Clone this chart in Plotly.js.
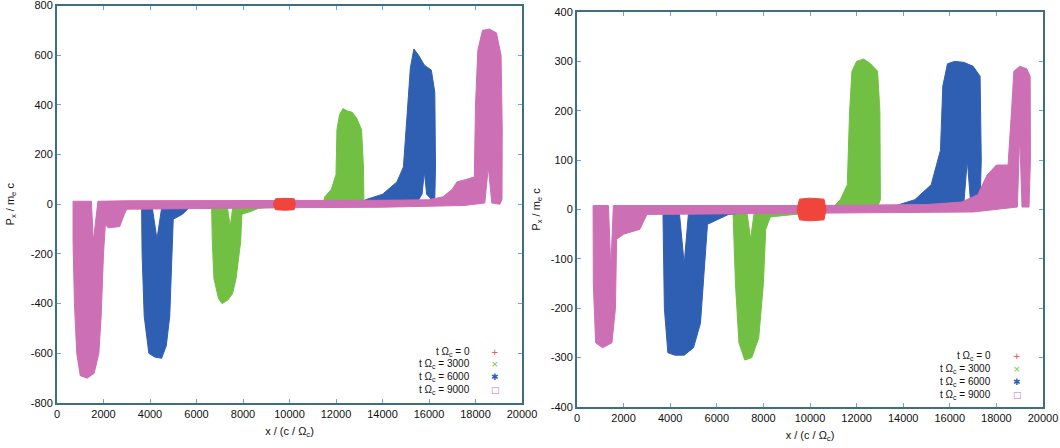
<!DOCTYPE html>
<html><head><meta charset="utf-8">
<script src="https://cdn.plot.ly/plotly-3.0.1.min.js"></script>
<style>html,body{margin:0;padding:0;background:#fff}#chart{width:1060px;height:448px}</style>
</head><body><div id="chart"></div>
<script>
// ---- data (phase-space envelopes, x in c/Ω_c, P_x in m_e c) ----
const seriesNames = ['t Ω<sub>c</sub> = 0', 't Ω<sub>c</sub> = 3000', 't Ω<sub>c</sub> = 6000', 't Ω<sub>c</sub> = 9000'];
const seriesColors = ['#f0453c', '#72c043', '#2f5fb3', '#cc6fb5'];
const legendSymbols = ['+', '×', '✱', '□'];

const xTickVals = [0, 2000, 4000, 6000, 8000, 10000, 12000, 14000, 16000, 18000, 20000];
const xTickText = ['0', '2000', '4000', '6000', '8000', '10000', '12000', '14000', '16000', '18000', '20000'];
const leftYTickVals = [-800, -600, -400, -200, 0, 200, 400, 600, 800];
const leftYTickText = ['-800', '-600', '-400', '-200', '0', '200', '400', '600', '800'];
const rightYTickVals = [-400, -300, -200, -100, 0, 100, 200, 300, 400];
const rightYTickText = ['-400', '-300', '-200', '-100', '0', '100', '200', '300', '400'];

// Left panel
const leftT0X = [9300, 9400, 9800, 10200, 10250, 10200, 9800, 9400, 9300];
const leftT0Y = [0, 22, 24, 22, 0, -22, -24, -22, 0];

const leftT3000X = [6650, 7000, 7330, 7450, 7560, 8000, 8700, 11000, 11450, 11520, 11800, 12000, 12040, 12150, 12300, 12500, 12700, 12900, 13100, 13180, 13200, 13150, 12000, 11000, 8700, 8300, 7950, 7900, 7700, 7550, 7350, 7100, 6950, 6750, 6680, 6650];
const leftT3000Y = [-10, -8, -12, -90, -12, -10, -15, 0, 5, 30, 60, 120, 300, 360, 385, 375, 370, 345, 300, 150, 20, 5, 0, -5, -15, -30, -40, -150, -300, -360, -385, -400, -380, -300, -150, -10];

const leftT6000X = [3640, 4100, 4300, 4500, 5000, 5700, 8000, 13000, 13330, 14000, 14620, 14900, 15050, 15200, 15350, 15550, 15800, 16100, 16250, 16280, 16250, 16100, 15900, 15800, 15700, 15500, 14000, 8000, 5720, 5400, 5000, 4950, 4850, 4700, 4500, 4200, 3950, 3750, 3660, 3640];
const leftT6000Y = [-15, -15, -140, -15, -10, -5, 0, 5, 20, 40, 90, 150, 350, 550, 625, 600, 560, 540, 450, 150, 25, 20, 40, 130, 40, 10, 0, -5, -10, -40, -60, -200, -450, -570, -620, -615, -600, -450, -200, -15];

const leftT9000X = [690, 1480, 1560, 1760, 3000, 6000, 10000, 14000, 16000, 16600, 17000, 17200, 17600, 17950, 18000, 18100, 18300, 18600, 18900, 19100, 19150, 19140, 19050, 18700, 18550, 18400, 17500, 14000, 10000, 6000, 3000, 2900, 2700, 2200, 2080, 2000, 1900, 1800, 1600, 1300, 1000, 850, 750, 690, 690];
const leftT9000Y = [12, 12, -150, 12, 14, 14, 14, 16, 18, 30, 60, 90, 100, 110, 400, 620, 700, 705, 690, 600, 300, 20, 0, 5, 150, 5, -5, -12, -14, -16, -20, -40, -90, -95, -80, -200, -450, -600, -680, -700, -690, -600, -400, -150, 12];

// Right panel
const rightT0X = [9440, 9550, 10000, 10600, 10690, 10600, 10000, 9550, 9440];
const rightT0Y = [0, 21, 23, 21, 0, -21, -23, -21, 0];

const rightT3000X = [6700, 7300, 7450, 7600, 8300, 11000, 11300, 11600, 11700, 11800, 12000, 12300, 12600, 12900, 13000, 13020, 12900, 11000, 8300, 8100, 8000, 7800, 7500, 7200, 6950, 6800, 6700];
const rightT3000Y = [-10, -8, -60, -8, -8, 5, 20, 50, 200, 280, 300, 305, 295, 280, 200, 20, 5, -2, -15, -40, -150, -260, -300, -305, -270, -150, -10];

const rightT6000X = [3690, 4400, 4600, 4780, 5500, 8000, 13500, 14500, 15200, 15600, 15700, 15900, 16200, 16600, 17000, 17300, 17350, 17300, 16900, 16750, 16600, 16000, 8000, 6500, 5600, 5500, 5300, 5000, 4600, 4200, 3900, 3750, 3690];
const rightT6000Y = [-10, -10, -110, -10, -8, 0, 5, 20, 50, 120, 250, 295, 300, 298, 290, 270, 100, 10, 10, 100, 10, 5, -3, -10, -30, -100, -230, -280, -295, -295, -290, -200, -10];

const rightT9000X = [690, 1350, 1450, 1560, 3000, 10000, 15000, 16500, 17200, 17600, 18000, 18500, 18650, 18750, 19000, 19300, 19450, 19460, 19400, 19100, 19000, 18900, 17000, 10000, 3000, 2700, 2000, 1700, 1650, 1500, 1100, 800, 700, 690];
const rightT9000Y = [8, 8, -120, 8, 8, 8, 10, 15, 30, 70, 90, 90, 200, 280, 290, 285, 270, 100, 5, 5, 150, 5, -5, -8, -10, -40, -50, -60, -200, -270, -280, -270, -150, 8];

// ---- layout helpers ----
const W = 1060, H = 448, ML = 50, MR = 10, MT = 4, MB = 40;
const pw = W - ML - MR, ph = H - MT - MB;
const px2x = p => (p - ML) / pw;
const py2y = p => 1 - (p - MT) / ph;

const panels = [
  {xa: 'x', ya: 'y', data: [[leftT0X, leftT0Y], [leftT3000X, leftT3000Y], [leftT6000X, leftT6000Y], [leftT9000X, leftT9000Y]]},
  {xa: 'x2', ya: 'y2', data: [[rightT0X, rightT0Y], [rightT3000X, rightT3000Y], [rightT6000X, rightT6000Y], [rightT9000X, rightT9000Y]]}
];
const drawOrder = [1, 2, 3, 0];
const traces = [];
panels.forEach(p => {
  drawOrder.forEach(i => {
    traces.push({
      type: 'scatter', mode: 'lines', x: p.data[i][0], y: p.data[i][1],
      xaxis: p.xa, yaxis: p.ya, fill: 'toself', fillcolor: seriesColors[i],
      line: {color: seriesColors[i], width: 1}, name: seriesNames[i], showlegend: false, hoverinfo: 'skip'
    });
  });
});

const font = {family: 'Liberation Sans, Arial, sans-serif', size: 11, color: '#111'};
const legendFont = {family: 'Liberation Sans, Arial, sans-serif', size: 10, color: '#111'};
const axisLine = '#3d6f7f';
function xaxisDef(domain, anchor) {
  return {domain, anchor, range: [0, 20000], tickvals: xTickVals, ticktext: xTickText,
    showline: true, linecolor: axisLine, linewidth: 2, mirror: 'ticks', ticks: 'inside', ticklen: 4,
    tickcolor: '#6aa6d4', showgrid: false, zeroline: false, tickfont: font, ticklabeloverflow: 'allow',
    title: {text: 'x / (c / Ω<sub>c</sub>)', font: font, standoff: 8}};
}
function yaxisDef(domain, anchor, range, tv, tt, standoff) {
  return {domain, anchor, range, tickvals: tv, ticktext: tt,
    showline: true, linecolor: axisLine, linewidth: 2, mirror: 'ticks', ticks: 'inside', ticklen: 4,
    tickcolor: '#6aa6d4', showgrid: false, zeroline: false, tickfont: font, ticklabeloverflow: 'allow',
    title: {text: 'P<sub>x</sub> / m<sub>e</sub> c', font: font, standoff}};
}

const annotations = [];
const legendPos = [
  {textX: 472, symX: 495, rows: [352, 364, 377, 390]},
  {textX: 993, symX: 1017, rows: [356, 369, 382, 395]}
];
legendPos.forEach(lp => {
  seriesNames.forEach((n, i) => {
    annotations.push({xref: 'paper', yref: 'paper', x: px2x(lp.textX), y: py2y(lp.rows[i]), text: n,
      showarrow: false, xanchor: 'right', yanchor: 'middle', font: legendFont});
    annotations.push({xref: 'paper', yref: 'paper', x: px2x(lp.symX), y: py2y(lp.rows[i]), text: legendSymbols[i],
      showarrow: false, xanchor: 'center', yanchor: 'middle', font: {family: 'DejaVu Sans', size: 9, color: seriesColors[i]}});
  });
});

const layout = {
  width: W, height: H, margin: {l: ML, r: MR, t: MT, b: MB},
  paper_bgcolor: '#fff', plot_bgcolor: '#fff', showlegend: false, font: font,
  xaxis: xaxisDef([px2x(57), px2x(522)], 'y'),
  yaxis: yaxisDef([py2y(403), py2y(5.5)], 'x', [-800, 800], leftYTickVals, leftYTickText, 14),
  xaxis2: xaxisDef([px2x(577), px2x(1043)], 'y2'),
  yaxis2: yaxisDef([py2y(407), py2y(12)], 'x2', [-400, 400], rightYTickVals, rightYTickText, 8),
  annotations
};
Plotly.newPlot('chart', traces, layout, {staticPlot: true, displayModeBar: false});
</script></body></html>
